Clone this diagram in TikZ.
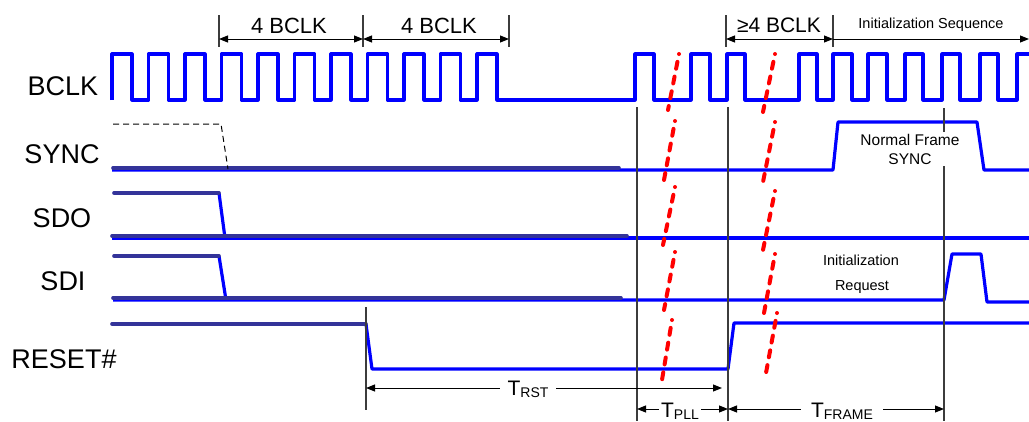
\documentclass[tikz,border=0pt]{standalone}
\usepackage{fontspec}
\setmainfont{Liberation Sans}
\usetikzlibrary{arrows.meta}
\definecolor{sigblue}{RGB}{0,0,255}
\definecolor{sigdark}{RGB}{51,51,153}
\definecolor{guidegray}{RGB}{60,60,60}
\tikzstyle{wave}=[draw=sigblue, line width=3.2pt, line join=round]
\tikzstyle{oldwave}=[draw=sigdark, line width=3.6pt, line cap=round]
\tikzstyle{guide}=[draw=guidegray, line width=1.3pt]
\tikzstyle{dim}=[draw=black, line width=1pt, {Triangle[length=9pt,width=7pt]}-{Triangle[length=9pt,width=7pt]}]
\tikzstyle{brk}=[draw=red, line width=4pt, line cap=round, dash pattern=on 0pt off 8pt on 7pt off 8pt on 7pt off 8pt on 7pt off 8pt on 7pt off 80pt]
\tikzstyle{siglabel}=[font=\fontsize{27}{30}\selectfont, inner sep=0pt, anchor=base]
\tikzstyle{dimlabel}=[font=\fontsize{22}{24}\selectfont, inner sep=0pt, anchor=base]
\tikzstyle{smalltext}=[font=\fontsize{14.5}{19}\selectfont, inner sep=0pt, anchor=base]
\tikzstyle{tlabel}=[font=\fontsize{21}{24}\selectfont, fill=white, inner ysep=1pt, anchor=base]
\newcommand{\tname}[1]{T\raisebox{-2pt}{\fontsize{14}{14}\selectfont #1}}

\begin{document}
\begin{tikzpicture}[x=1pt, y=-1pt]
\useasboundingbox (0,0) rectangle (1029,421);

\node[siglabel] (bclk) at (63,95) {BCLK};
\node[siglabel] (sync) at (62,163) {SYNC};
\node[siglabel] (sdo) at (62,227) {SDO};
\node[siglabel] (sdi) at (63,290) {SDI};
\node[siglabel] (reset) at (64,368) {RESET\#};

\draw[wave] (112,100) \foreach \k in {0,...,10} { -- ++(0,-46) -- ++(20,0) -- ++(0,46) -- ++(16.5,0) } -- (635,100)
  \foreach \a/\b in {635/654, 691/710, 727/745, 799/817, 833/852, 868/887, 905/923, 942/960, 980/998} { -- (\a,100) -- (\a,54) -- (\b,54) -- (\b,100) }
  -- (1017,100) -- (1017,54) -- (1030,54);

\draw[wave] (112,170) -- (833,170) -- (838,122) -- (977,122) -- (984,170) -- (1030,170);
\draw[oldwave] (113,168) -- (619,168);
\draw[black, line width=1pt, dash pattern=on 6pt off 4pt] (113,124) -- (221,124) -- (228,169);

\draw[wave] (112,238) -- (1030,238);
\draw[wave] (219,193) -- (225,238);
\draw[oldwave] (114,193) -- (219,193);
\draw[oldwave] (112,236) -- (627,236);

\draw[wave] (113,300) -- (944,300) -- (952,254) -- (981,254) -- (987,302) -- (1030,302);
\draw[wave] (219,256) -- (226,300);
\draw[oldwave] (114,256) -- (219,256);
\draw[oldwave] (113,298) -- (621,298);

\draw[wave] (366,324) -- (372,369) -- (728,369) -- (734,323) -- (1030,323);
\draw[oldwave] (112,324) -- (366,324);

\draw[guide] (366,307) -- (366,410);
\draw[guide] (637,107) -- (637,421);
\draw[guide] (728,107) -- (728,421);
\draw[guide] (944,108) -- (944,421);
\foreach \x in {219,363,509,726,833} \draw[guide] (\x,15) -- (\x,47);

\coordinate (c1) at (219,39);
\coordinate (c2) at (363,39);
\coordinate (c3) at (509,39);
\coordinate (c4) at (726,39);
\coordinate (c5) at (833,39);
\coordinate (c6) at (1029,39);
\draw[dim] (c1) -- (c2);
\draw[dim] (c2) -- (c3);
\draw[dim] (c4) -- (c5);
\draw[dim, -{Triangle[length=9pt,width=7pt]}] (c5) -- (c6);
\node[dimlabel] (first) at (289,33) {4 BCLK};
\node[dimlabel] (second) at (439,33) {4 BCLK};
\node[dimlabel, font=\fontsize{21}{24}\selectfont] (third) at (779,32) {≥4 BCLK};
\node[smalltext] (initseq) at (931,28.5) {Initialization Sequence};

\node[smalltext, font=\fontsize{15.5}{19}\selectfont, fill=white, inner sep=2pt, align=center, anchor=center] (normal) at (910,149) {Normal Frame\\SYNC};
\node[smalltext] (initreq) at (861,265) {Initialization};
\node[smalltext] (request) at (862,290) {Request};

\coordinate (rst1) at (366,388);
\coordinate (rst2) at (722,388);
\coordinate (pll1) at (637,409);
\coordinate (pll2) at (728,409);
\coordinate (frm2) at (944,409);
\draw[dim] (rst1) -- (rst2);
\draw[dim] (pll1) -- (pll2);
\draw[dim] (pll2) -- (frm2);
\node[tlabel, inner xsep=8pt] (trst) at (528,395) {\tname{RST}};
\node[tlabel, inner xsep=2pt] (tpll) at (680,417) {\tname{PLL}};
\node[tlabel, inner xsep=10pt] (tframe) at (842,417) {\tname{FRAME}};

\foreach \xa/\ya/\xb/\yb in {679/54/668/110, 675/121/664/180, 675/187/663/245, 675/252/664/310, 672/320/662/380,
  775/54/763/112, 775/122/763/182, 775/191/763/250, 775/254/764/313, 777/313/766/373}
  \draw[brk] (\xa,\ya) -- (\xb,\yb);
\end{tikzpicture}
\end{document}
